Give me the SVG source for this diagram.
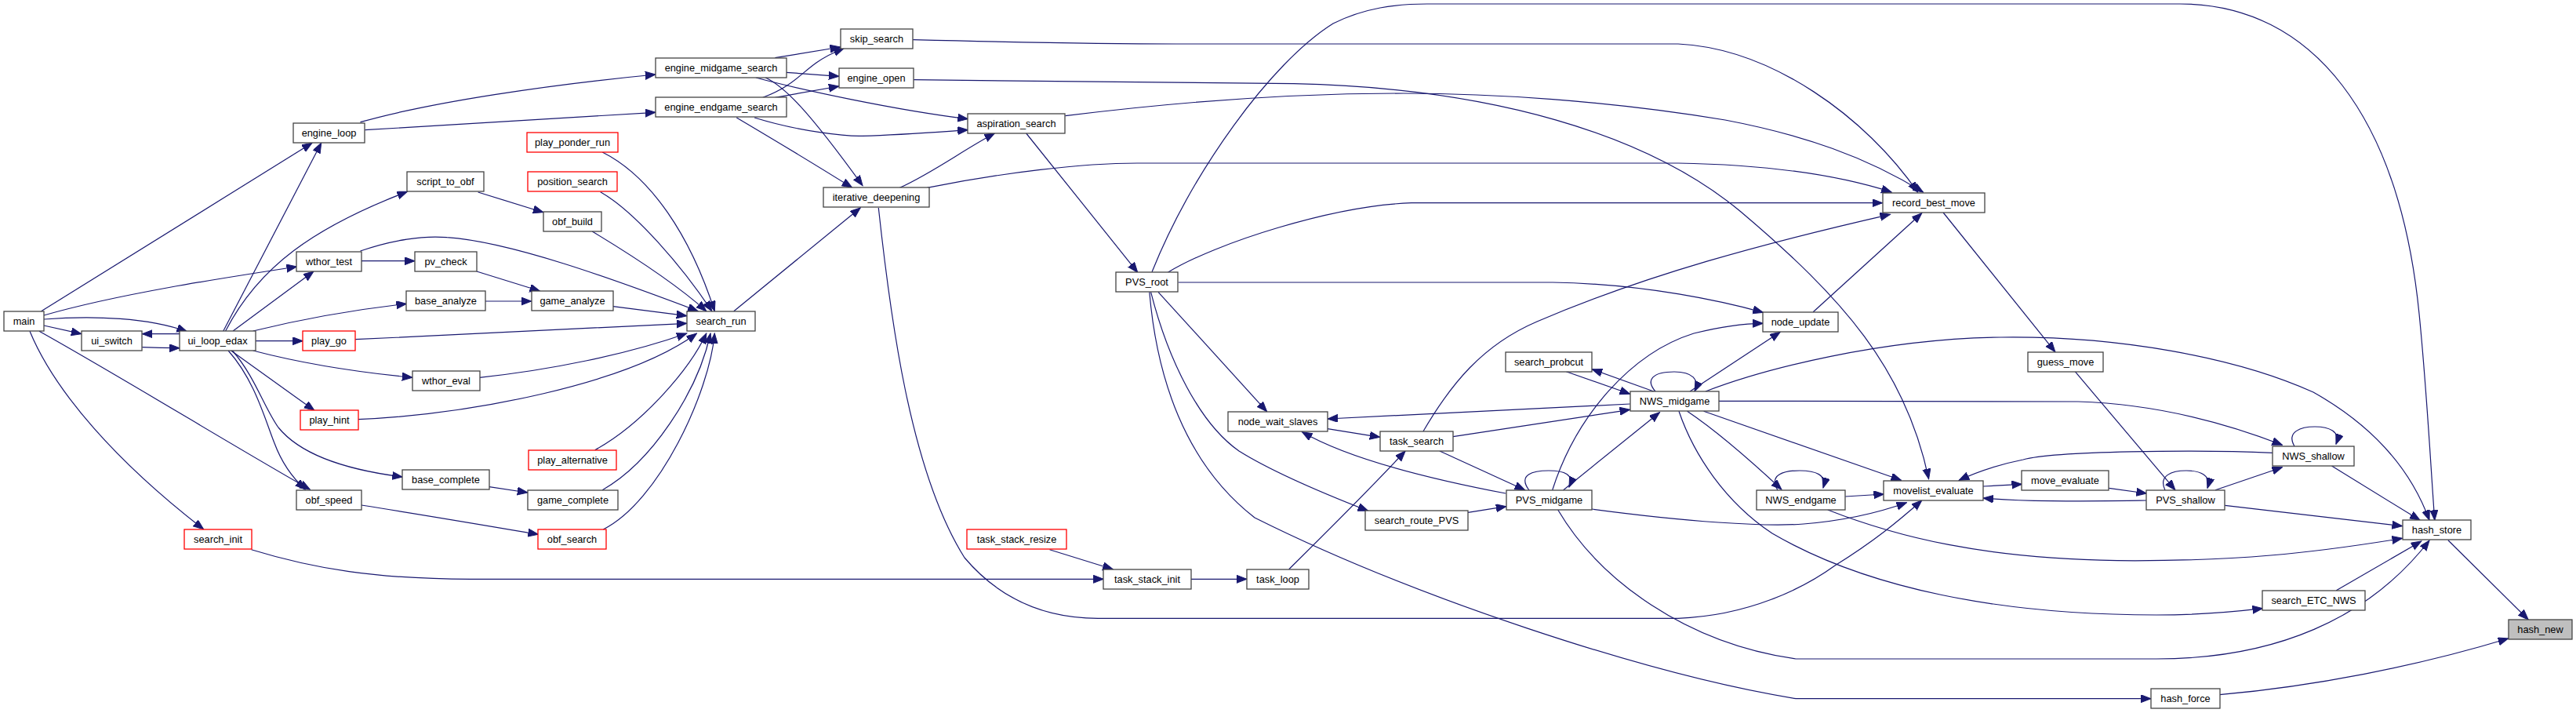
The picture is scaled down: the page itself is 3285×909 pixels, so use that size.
<svg xmlns="http://www.w3.org/2000/svg" width="3285" height="909" viewBox="0 0 3285 909">
<defs>
<marker id="ah" markerUnits="userSpaceOnUse" markerWidth="14" markerHeight="11" refX="13" refY="5" orient="auto"><path d="M0,0 L13,5 L0,10 z" fill="#191970" stroke="#191970" stroke-width="1"/></marker>
<style>
.node rect{fill:#ffffff;stroke:#444444;stroke-width:1.3}
.node.red rect{stroke:#ff0000}
.node.cur rect{fill:#bfbfbf;stroke:#444444}
.node text{font-family:"Liberation Sans",Arial,sans-serif;font-size:12.8px;fill:#000000;text-anchor:middle}
.edges path{fill:none;stroke:#191970;stroke-width:1.2;marker-end:url(#ah)}
</style>
</defs>
<rect x="0" y="0" width="3285" height="909" fill="#ffffff"/>
<g id="edges" class="edges">
<path d="M52.6,396.7 L398,182.3"/>
<path d="M56,402 C150,375 280,355 378.5,340"/>
<path d="M56,407 C120,402 190,405 238.5,422.7"/>
<path d="M56,415 L103.8,425.7"/>
<path d="M50,422.3 C150,478 300,570 395.3,624"/>
<path d="M38,422.3 C70,500 150,590 259.6,674.7"/>
<path d="M181.3,442.7 C200,443.5 215,443.7 229,443.7"/>
<path d="M229,425.7 L181.3,425.7"/>
<path d="M284.8,422 L409.7,182.3"/>
<path d="M287.6,422 C330,340 400,290 519.5,244.3"/>
<path d="M297.1,422 L399.9,346"/>
<path d="M322.7,422 C380,408 450,395 518.4,387.3"/>
<path d="M326.2,434.7 L386.2,434.7"/>
<path d="M322.7,447 C380,462 450,474 525.8,481.3"/>
<path d="M294.6,447 L400.9,523.3"/>
<path d="M291.1,447 C325,485 338,535 350,565 C360,592 374,610 389.3,624"/>
<path d="M296.4,447 C325,480 337,520 355,545 C385,582 450,600 513.2,608"/>
<path d="M459.5,155.7 C550,130 700,108 835.9,95"/>
<path d="M465.4,165.7 C600,158 730,150 835.9,143.3"/>
<path d="M609.6,245 L692.8,270.7"/>
<path d="M460.9,332.7 L528.9,332.7"/>
<path d="M459.5,320 C500,306 540,300 570,302.7 C650,308 780,355 890.2,396.7"/>
<path d="M607.9,346 L688.5,371"/>
<path d="M618.7,384 L677.7,384"/>
<path d="M453.2,432.7 C600,426 750,418 875.8,412.3"/>
<path d="M755.2,295 C800,322 860,360 900.8,396.7"/>
<path d="M765.7,244.7 C810,270 870,340 907.8,396.7"/>
<path d="M768.2,194 C830,225 880,300 911.3,396.7"/>
<path d="M781.8,390.7 L875.8,402.7"/>
<path d="M935.8,396.7 L1097.2,265"/>
<path d="M611.4,481.3 C700,472 800,452 875.8,425"/>
<path d="M456.7,534.7 C600,528 800,490 888.5,425"/>
<path d="M758.7,573.7 C820,540 880,470 900.8,425"/>
<path d="M768.2,624.7 C830,590 890,500 906,425"/>
<path d="M769.2,675 C840,640 905,500 911.3,425"/>
<path d="M624,620.7 L672.8,628"/>
<path d="M460.9,644 C550,658 620,670 686.4,681.3"/>
<path d="M320.6,700.7 C400,725 480,738.3 600,738.3 L1407.3,738.3"/>
<path d="M988.4,73.7 L1071.6,60"/>
<path d="M1002.5,92.3 L1069.8,97.3"/>
<path d="M963.9,99 C1020,114 1140,140 1234.3,151.7"/>
<path d="M976.2,99 C1000,110 1030,140 1100,236.7"/>
<path d="M972.7,124.3 C1010,110 1020,95 1041,80 C1055,70 1065,66 1076.1,61.7"/>
<path d="M988.4,124.3 L1069.8,110"/>
<path d="M962.1,150 C1020,168 1080,174 1100,173.3 C1150,172 1200,168 1234.3,165.7"/>
<path d="M939.3,150 C990,180 1040,210 1086.7,239.3"/>
<path d="M1147.4,239.3 C1190,220 1230,190 1268.4,170"/>
<path d="M1182.4,239.3 C1280,220 1380,208 1450,208 L2140,208 C2260,210 2350,225 2412.2,245"/>
<path d="M1120.3,265 C1135,400 1160,600 1230,711 C1280,770 1340,788.3 1400,788.3 L2140,788.3 C2230,785 2300,750 2340,721 C2390,690 2420,665 2450.8,638"/>
<path d="M1308.7,170 L1450.8,347.3"/>
<path d="M1358.5,147.7 C1500,130 1650,119 1790,119 C1900,119 2050,128 2200,153 C2300,172 2380,200 2452.5,245"/>
<path d="M1164.2,50.7 C1300,54 1400,56 1500,56 L2140,56 C2260,62 2380,150 2445.5,245"/>
<path d="M1165.2,101.7 L1650,106.7 C1900,112 2100,170 2220,270 C2350,380 2430,470 2459.6,610.7"/>
<path d="M1469,346.7 C1520,220 1620,80 1700,30 C1740,10 1780,5 1820,5 L2780,5 C2950,5 3060,150 3085,400 C3095,500 3100,600 3104.8,663.3"/>
<path d="M1489.3,347.3 C1550,310 1700,262 1800,258.7 L2400.6,258.7"/>
<path d="M1502.7,360 L1980,360 C2100,362 2200,385 2248.4,398.3"/>
<path d="M1477,372.3 L1615.6,524.7"/>
<path d="M1467.6,372.3 C1490,460 1530,540 1580,575 C1620,600 1690,630 1744.7,651.3"/>
<path d="M1465.8,372.3 C1475,480 1510,590 1600,660 C1800,760 2100,860 2290,890.7 L2743,890.7"/>
<path d="M2478.1,271 L2620.9,448.7"/>
<path d="M2312.2,397.7 L2450.8,271.7"/>
<path d="M1814.9,550 C1850,490 1890,440 1960,410 C2100,350 2250,310 2410.5,273.3"/>
<path d="M1979.7,624.7 C2010,530 2080,450 2160,425 C2200,415 2230,412.3 2248.4,412.3"/>
<path d="M2155.1,499 L2270.2,423.3"/>
<path d="M2646.2,473.7 L2773.9,624.7"/>
<path d="M2109.5,499.3 L2030.2,470.7"/>
<path d="M1997.2,473.7 L2078.6,502.3"/>
<path d="M2111,499 C2098,484 2108,474 2135,474 C2158,474 2168,484 2161,499"/>
<path d="M2078.6,515 L1693.1,534"/>
<path d="M1853.1,556.7 L2078.6,522.3"/>
<path d="M1993.7,624.7 L2116.5,525.7"/>
<path d="M1950,625 C1935,605 1955,600 1975,600 C1995,600 2008,605 2001,621"/>
<path d="M1920.1,629 C1820,610 1720,585 1660.5,550.7"/>
<path d="M1835.9,575 L1944.6,624.7"/>
<path d="M1872,653.3 L1920.8,645.7"/>
<path d="M2029.9,649 C2150,665 2250,672 2300,668 C2360,663 2400,652 2431.5,640.7"/>
<path d="M1986.7,650 C2040,740 2150,820 2290,840 L2750,840 C2900,840 3020,790 3098,689"/>
<path d="M2151.6,524.3 C2190,550 2230,585 2271.9,624"/>
<path d="M2172.6,524.3 L2424.5,612.3"/>
<path d="M2191.9,511.3 L2650,512 C2750,515 2840,540 2910.4,567.3"/>
<path d="M2175,499 C2250,470 2400,432 2551,430 C2700,428 2850,455 2950,500 C3030,545 3075,600 3098,663.3"/>
<path d="M2141,524.3 C2160,580 2200,640 2260,680 C2380,750 2550,784 2750,784 C2800,784 2850,780 2885.4,775.7"/>
<path d="M2267,625 C2255,605 2275,600 2295,600 C2315,600 2330,605 2325,622"/>
<path d="M2353.3,633 L2402.4,630"/>
<path d="M2330.8,650 C2420,685 2530,712 2700,714.7 C2850,716 2950,705 3063.5,686.3"/>
<path d="M2529,620 L2578.5,617.3"/>
<path d="M2689.3,622.3 L2737.4,629"/>
<path d="M2737.4,638 C2650,639 2580,640 2529,635"/>
<path d="M2898.4,577.3 C2800,573 2620,575 2580,586 C2550,592 2520,602 2498.1,612.3"/>
<path d="M2761,625 C2752,606 2770,600 2788,600 C2806,600 2820,606 2815,622.3"/>
<path d="M2825.1,624.7 L2910.4,595.7"/>
<path d="M2837.3,644.3 L3063.5,670.7"/>
<path d="M2926,569 C2915,550 2935,544 2952,544 C2970,544 2985,550 2979,566.3"/>
<path d="M2973.5,594 L3086.1,663.3"/>
<path d="M3121.9,688.7 L3224.2,790"/>
<path d="M2979.3,752.7 L3087.8,690"/>
<path d="M2830.5,885.7 C2950,875 3080,850 3198.7,814"/>
<path d="M1338.5,700.7 L1419.2,725.7"/>
<path d="M1518.8,738.3 L1590,738.3"/>
<path d="M1643.7,725.7 C1690,680 1750,620 1792.1,575"/>
<path d="M1693.1,546.7 L1759.8,557.3"/>
</g>
<g id="node-main" class="node"><rect x="5" y="397" width="51" height="25"/><text x="30.5" y="414">main</text></g>
<g id="node-ui_switch" class="node"><rect x="104" y="422" width="77" height="25"/><text x="142.5" y="439">ui_switch</text></g>
<g id="node-ui_loop_edax" class="node"><rect x="229" y="422" width="97" height="25"/><text x="277.5" y="439">ui_loop_edax</text></g>
<g id="node-engine_loop" class="node"><rect x="374" y="157" width="91" height="25"/><text x="419.5" y="174">engine_loop</text></g>
<g id="node-wthor_test" class="node"><rect x="378" y="321" width="83" height="25"/><text x="419.5" y="338">wthor_test</text></g>
<g id="node-play_go" class="node red"><rect x="386" y="422" width="67" height="25"/><text x="419.5" y="439">play_go</text></g>
<g id="node-script_to_obf" class="node"><rect x="519" y="219" width="98" height="25"/><text x="568" y="236">script_to_obf</text></g>
<g id="node-pv_check" class="node"><rect x="529" y="321" width="79" height="25"/><text x="568.5" y="338">pv_check</text></g>
<g id="node-base_analyze" class="node"><rect x="518" y="371" width="101" height="25"/><text x="568.5" y="388">base_analyze</text></g>
<g id="node-wthor_eval" class="node"><rect x="526" y="473" width="86" height="25"/><text x="569" y="490">wthor_eval</text></g>
<g id="node-play_hint" class="node red"><rect x="383" y="523" width="74" height="25"/><text x="420" y="540">play_hint</text></g>
<g id="node-base_complete" class="node"><rect x="513" y="599" width="111" height="25"/><text x="568.5" y="616">base_complete</text></g>
<g id="node-obf_speed" class="node"><rect x="378" y="625" width="83" height="25"/><text x="419.5" y="642">obf_speed</text></g>
<g id="node-search_init" class="node red"><rect x="235" y="675" width="86" height="25"/><text x="278" y="692">search_init</text></g>
<g id="node-engine_midgame_search" class="node"><rect x="836" y="74" width="167" height="25"/><text x="919.5" y="91">engine_midgame_search</text></g>
<g id="node-engine_endgame_search" class="node"><rect x="836" y="124" width="167" height="25"/><text x="919.5" y="141">engine_endgame_search</text></g>
<g id="node-skip_search" class="node"><rect x="1072" y="37" width="92" height="25"/><text x="1118" y="54">skip_search</text></g>
<g id="node-engine_open" class="node"><rect x="1070" y="87" width="95" height="25"/><text x="1117.5" y="104">engine_open</text></g>
<g id="node-play_ponder_run" class="node red"><rect x="672" y="169" width="116" height="25"/><text x="730" y="186">play_ponder_run</text></g>
<g id="node-position_search" class="node red"><rect x="673" y="219" width="114" height="25"/><text x="730" y="236">position_search</text></g>
<g id="node-obf_build" class="node"><rect x="693" y="270" width="74" height="25"/><text x="730" y="287">obf_build</text></g>
<g id="node-game_analyze" class="node"><rect x="678" y="371" width="104" height="25"/><text x="730" y="388">game_analyze</text></g>
<g id="node-search_run" class="node"><rect x="876" y="397" width="87" height="25"/><text x="919.5" y="414">search_run</text></g>
<g id="node-iterative_deepening" class="node"><rect x="1050" y="239" width="135" height="25"/><text x="1117.5" y="256">iterative_deepening</text></g>
<g id="node-play_alternative" class="node red"><rect x="674" y="574" width="112" height="25"/><text x="730" y="591">play_alternative</text></g>
<g id="node-game_complete" class="node"><rect x="673" y="625" width="115" height="25"/><text x="730.5" y="642">game_complete</text></g>
<g id="node-obf_search" class="node red"><rect x="686" y="675" width="87" height="25"/><text x="729.5" y="692">obf_search</text></g>
<g id="node-aspiration_search" class="node"><rect x="1234" y="145" width="124" height="25"/><text x="1296" y="162">aspiration_search</text></g>
<g id="node-PVS_root" class="node"><rect x="1423" y="347" width="79" height="25"/><text x="1462.5" y="364">PVS_root</text></g>
<g id="node-node_wait_slaves" class="node"><rect x="1566" y="525" width="127" height="25"/><text x="1629.5" y="542">node_wait_slaves</text></g>
<g id="node-task_stack_resize" class="node red"><rect x="1233" y="675" width="127" height="25"/><text x="1296.5" y="692">task_stack_resize</text></g>
<g id="node-task_stack_init" class="node"><rect x="1407" y="726" width="112" height="25"/><text x="1463" y="743">task_stack_init</text></g>
<g id="node-task_loop" class="node"><rect x="1590" y="726" width="79" height="25"/><text x="1629.5" y="743">task_loop</text></g>
<g id="node-search_probcut" class="node"><rect x="1920" y="449" width="110" height="25"/><text x="1975" y="466">search_probcut</text></g>
<g id="node-NWS_midgame" class="node"><rect x="2079" y="499" width="113" height="25"/><text x="2135.5" y="516">NWS_midgame</text></g>
<g id="node-task_search" class="node"><rect x="1760" y="550" width="93" height="25"/><text x="1806.5" y="567">task_search</text></g>
<g id="node-PVS_midgame" class="node"><rect x="1921" y="625" width="109" height="25"/><text x="1975.5" y="642">PVS_midgame</text></g>
<g id="node-search_route_PVS" class="node"><rect x="1741" y="651" width="131" height="25"/><text x="1806.5" y="668">search_route_PVS</text></g>
<g id="node-record_best_move" class="node"><rect x="2401" y="246" width="130" height="25"/><text x="2466" y="263">record_best_move</text></g>
<g id="node-node_update" class="node"><rect x="2248" y="398" width="96" height="25"/><text x="2296" y="415">node_update</text></g>
<g id="node-guess_move" class="node"><rect x="2586" y="449" width="96" height="25"/><text x="2634" y="466">guess_move</text></g>
<g id="node-NWS_endgame" class="node"><rect x="2240" y="625" width="113" height="25"/><text x="2296.5" y="642">NWS_endgame</text></g>
<g id="node-movelist_evaluate" class="node"><rect x="2402" y="613" width="127" height="25"/><text x="2465.5" y="630">movelist_evaluate</text></g>
<g id="node-move_evaluate" class="node"><rect x="2578" y="600" width="111" height="25"/><text x="2633.5" y="617">move_evaluate</text></g>
<g id="node-PVS_shallow" class="node"><rect x="2737" y="625" width="100" height="25"/><text x="2787" y="642">PVS_shallow</text></g>
<g id="node-hash_force" class="node"><rect x="2743" y="878" width="88" height="25"/><text x="2787" y="895">hash_force</text></g>
<g id="node-NWS_shallow" class="node"><rect x="2898" y="569" width="104" height="25"/><text x="2950" y="586">NWS_shallow</text></g>
<g id="node-hash_store" class="node"><rect x="3064" y="663" width="87" height="25"/><text x="3107.5" y="680">hash_store</text></g>
<g id="node-search_ETC_NWS" class="node"><rect x="2885" y="753" width="131" height="25"/><text x="2950.5" y="770">search_ETC_NWS</text></g>
<g id="node-hash_new" class="node cur"><rect x="3199" y="790" width="81" height="25"/><text x="3239.5" y="807">hash_new</text></g>
</svg>
